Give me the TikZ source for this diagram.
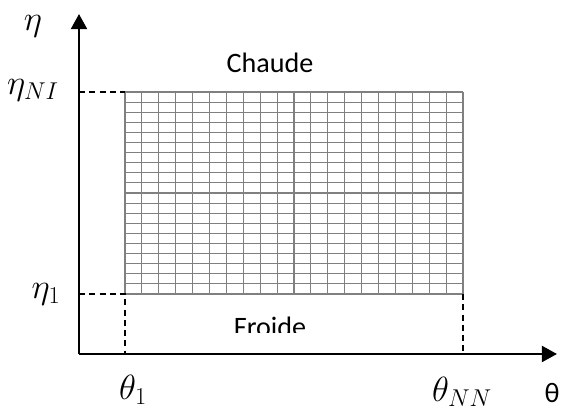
\documentclass[tikz,border=0pt]{standalone}
\usepackage{amsmath}
\usepackage{fontspec}
\setmainfont{Carlito}
\usepackage{tikz}
\usetikzlibrary{arrows.meta,calc,positioning}

\tikzset{
  axisline/.style={line width=1.8pt,-{Triangle[length=0.38cm,width=0.4cm]}},
  guideline/.style={line width=1.2pt,dash pattern=on 4.3pt off 3pt},
  meshline/.style={black!50,line width=0.8pt},
  lbl/.style={inner sep=0pt,font=\fontsize{20}{24}\selectfont},
  mathlbl/.style={inner sep=0pt,font=\fontsize{25}{30}\selectfont}
}

\begin{document}
\begin{tikzpicture}
  \useasboundingbox (0,0) rectangle (14.075,10.25);
  % axes
  \coordinate (O) at (1.975,1.4);
  \coordinate (ytip) at (1.975,9.9);
  \coordinate (xtip) at (13.925,1.4);
  \draw[axisline] (O) -- (ytip);
  \draw[axisline] (O) -- (xtip);
  % mesh, 20 x 20 cells
  \coordinate (SW) at (3.125,2.9);
  \coordinate (NE) at (11.575,7.95);
  \coordinate (NW) at (3.125,7.95);
  \coordinate (SE) at (11.575,2.9);
  \foreach \i in {0,...,20}{
    \draw[meshline] ($(SW)+(\i*0.4225,0)$) -- ++(0,5.05);
    \draw[meshline] ($(SW)+(0,\i*0.2525)$) -- ++(8.45,0);
  }
  % guides
  \coordinate (yNI) at (O |- NW);
  \coordinate (y1) at (O |- SW);
  \coordinate (x1) at (SW |- O);
  \coordinate (xNN) at (SE |- O);
  \draw[guideline] (yNI) -- (NW);
  \draw[guideline] (y1) -- (SW) -- (x1);
  \draw[guideline] (SE) -- (xNN);
  % labels
  \node[mathlbl] (eta) at (0.825,9.6) {$\eta$};
  \node[mathlbl] (etaNI) at (0.825,8.0) {$\eta_{NI}$};
  \node[mathlbl] (eta1) at (1.15,2.9) {$\eta_1$};
  \node[mathlbl] (theta1) at (3.325,0.5) {$\theta_1$};
  \node[mathlbl] (thetaNN) at (11.55,0.45) {$\theta_{NN}$};
  \node[lbl] (theta) at (13.8,0.425) {θ};
  \node[lbl] (chaude) at (6.75,8.675) {Chaude};
  \begin{scope}
    \clip (4,1.925) rectangle (10,3);
    \node[lbl] (froide) at (6.75,2.075) {Froide};
  \end{scope}
\end{tikzpicture}
\end{document}
